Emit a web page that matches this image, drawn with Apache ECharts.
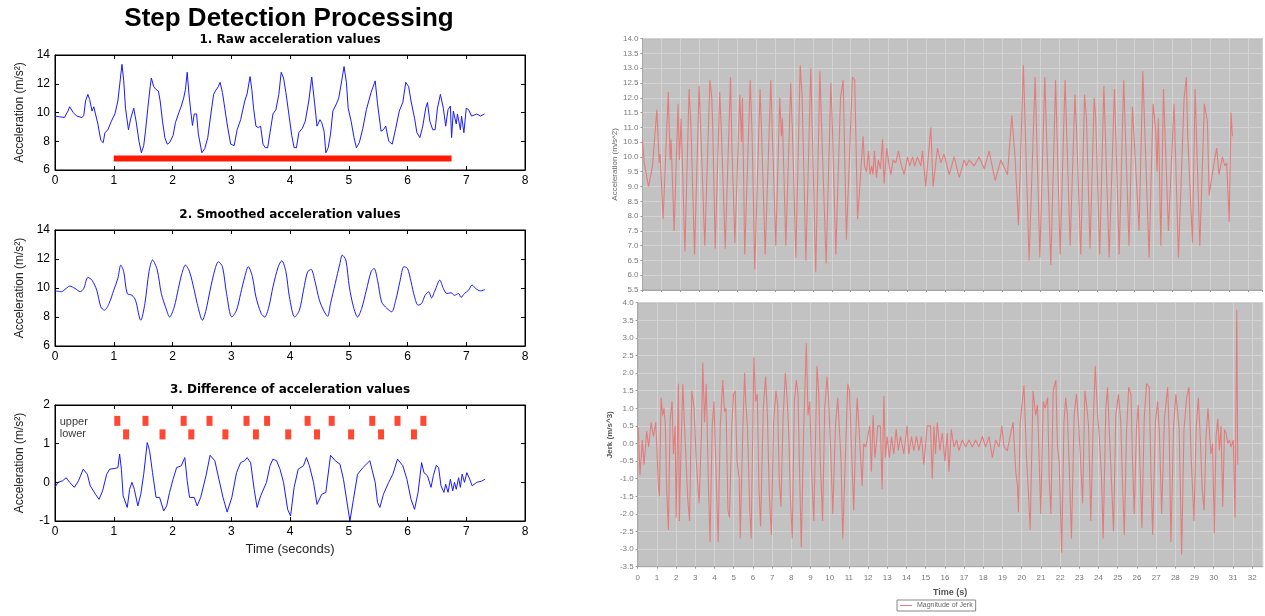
<!DOCTYPE html>
<html>
<head>
<meta charset="utf-8" />
<title>Step Detection Processing</title>
<script src="https://cdn.jsdelivr.net/npm/echarts@6/dist/echarts.min.js"></script>
<style>
html, body { margin: 0; padding: 0; background: #fff; }
#main { width: 1265px; height: 616px; }
</style>
</head>
<body>
<div id="main"></div>
<script>
// ---- left: matlab style panels (time in s, value) ----
var rawAccel = [[0,9.75],[0.08,9.7],[0.16,9.65],[0.22,10.1],[0.25,10.4],[0.31,10.0],[0.37,9.75],[0.46,9.65],[0.49,9.8],[0.52,10.8],[0.56,11.26],[0.59,10.9],[0.63,10.1],[0.66,10.4],[0.69,10.3],[0.73,9.2],[0.78,8.06],[0.82,7.9],[0.85,8.6],[0.90,8.8],[0.96,9.4],[1.02,9.9],[1.07,10.8],[1.10,10.9],[1.14,13.35],[1.17,12.2],[1.20,10.3],[1.25,8.8],[1.29,9.6],[1.34,10.3],[1.38,9.4],[1.43,8.0],[1.47,7.2],[1.51,7.7],[1.54,8.7],[1.58,10.3],[1.62,11.8],[1.64,12.4],[1.68,11.8],[1.72,11.6],[1.76,11.5],[1.79,10.8],[1.83,9.4],[1.87,8.25],[1.91,7.8],[1.95,7.9],[2.01,8.4],[2.05,9.3],[2.10,9.9],[2.15,10.45],[2.19,11.0],[2.22,11.6],[2.25,12.8],[2.28,11.3],[2.31,10.1],[2.34,9.1],[2.37,9.9],[2.41,9.9],[2.44,8.5],[2.50,7.2],[2.55,7.5],[2.60,8.25],[2.66,10.1],[2.70,11.26],[2.73,11.5],[2.78,11.8],[2.81,12.1],[2.85,11.4],[2.89,10.3],[2.93,9.2],[2.99,7.8],[3.05,7.7],[3.10,8.8],[3.16,9.5],[3.23,10.8],[3.27,11.3],[3.32,12.5],[3.35,11.6],[3.38,10.3],[3.42,9.05],[3.46,8.95],[3.50,9.05],[3.54,7.8],[3.58,7.55],[3.62,7.55],[3.66,8.6],[3.71,9.9],[3.76,10.2],[3.81,11.26],[3.85,12.8],[3.89,12.4],[3.93,11.4],[3.98,9.9],[4.03,8.4],[4.07,7.55],[4.11,7.55],[4.15,8.6],[4.21,8.9],[4.26,9.4],[4.32,10.8],[4.37,12.47],[4.42,10.6],[4.46,9.05],[4.51,9.5],[4.54,9.3],[4.58,8.7],[4.61,7.2],[4.65,7.55],[4.69,8.5],[4.73,10.1],[4.79,10.6],[4.83,11.0],[4.88,12.2],[4.92,13.2],[4.96,12.1],[4.99,10.3],[5.04,9.4],[5.09,8.25],[5.13,7.55],[5.18,7.9],[5.24,8.9],[5.30,10.2],[5.38,11.4],[5.45,12.2],[5.49,10.6],[5.55,8.7],[5.59,8.8],[5.63,9.05],[5.68,8.0],[5.74,7.8],[5.80,8.9],[5.86,10.1],[5.92,10.7],[5.97,12.1],[6.02,11.8],[6.06,10.8],[6.12,9.6],[6.16,8.6],[6.21,8.25],[6.26,9.05],[6.31,10.3],[6.34,10.7],[6.38,9.4],[6.43,8.8],[6.47,8.8],[6.51,10.3],[6.56,11.26],[6.61,10.3],[6.65,9.05],[6.69,10.2],[6.73,10.45],[6.75,8.25],[6.78,10.1],[6.83,9.2],[6.85,9.9],[6.90,8.8],[6.92,9.75],[6.96,8.6],[7.00,10.3],[7.04,10.2],[7.09,9.75],[7.18,9.9],[7.24,9.75],[7.31,9.9]];
var smoothAccel = [[0,9.8],[0.11,9.75],[0.19,9.97],[0.25,10.13],[0.34,9.97],[0.43,9.75],[0.49,9.97],[0.56,10.73],[0.63,10.54],[0.71,9.85],[0.78,8.7],[0.84,8.47],[0.92,8.93],[1.00,9.85],[1.07,10.66],[1.12,11.58],[1.17,11.12],[1.23,9.62],[1.31,9.5],[1.37,9.16],[1.46,7.78],[1.53,8.93],[1.60,11.12],[1.66,11.93],[1.74,11.24],[1.81,9.62],[1.90,8.47],[1.95,8.0],[2.03,8.7],[2.10,9.97],[2.16,11.0],[2.22,11.58],[2.29,11.12],[2.37,9.85],[2.42,8.93],[2.51,7.78],[2.57,8.47],[2.64,9.85],[2.72,11.24],[2.78,11.81],[2.85,11.47],[2.92,9.62],[3.01,8.0],[3.09,8.47],[3.16,9.62],[3.23,10.77],[3.29,11.47],[3.36,10.77],[3.42,9.39],[3.51,8.24],[3.57,8.0],[3.64,8.7],[3.71,10.08],[3.80,11.47],[3.86,11.88],[3.93,11.12],[3.99,9.39],[4.08,8.0],[4.16,8.47],[4.23,9.85],[4.30,11.12],[4.36,11.28],[4.42,10.54],[4.50,9.16],[4.57,8.47],[4.64,8.05],[4.69,8.93],[4.77,10.31],[4.85,11.7],[4.89,12.27],[4.95,11.93],[5.01,10.08],[5.08,8.7],[5.15,8.0],[5.22,8.59],[5.30,9.85],[5.38,11.12],[5.43,11.35],[5.49,10.54],[5.56,9.04],[5.65,8.59],[5.73,8.36],[5.80,9.16],[5.87,10.43],[5.94,11.47],[6.00,11.35],[6.06,10.43],[6.12,9.39],[6.18,8.82],[6.24,8.93],[6.30,9.5],[6.36,9.74],[6.41,9.32],[6.47,9.85],[6.55,10.54],[6.61,9.97],[6.67,9.62],[6.74,9.67],[6.80,9.5],[6.87,9.62],[6.91,9.35],[6.97,9.62],[7.04,9.85],[7.10,10.2],[7.16,9.97],[7.24,9.8],[7.32,9.9]];
var diffAccel = [[0,-0.13],[0.05,0.0],[0.13,0.04],[0.19,0.12],[0.25,0.0],[0.33,-0.13],[0.40,0.04],[0.48,0.34],[0.55,0.21],[0.60,-0.09],[0.69,-0.31],[0.75,-0.44],[0.81,-0.22],[0.88,0.21],[0.93,0.34],[1.02,0.36],[1.07,0.38],[1.10,0.73],[1.13,0.34],[1.16,-0.35],[1.23,-0.65],[1.27,-0.18],[1.31,0.0],[1.35,-0.18],[1.41,-0.61],[1.46,-0.31],[1.51,0.21],[1.57,1.03],[1.61,0.82],[1.66,0.25],[1.72,-0.39],[1.78,-0.39],[1.85,-0.74],[1.90,-0.61],[1.95,-0.26],[2.01,0.08],[2.07,0.38],[2.15,0.43],[2.21,0.64],[2.25,0.04],[2.29,-0.39],[2.37,-0.39],[2.42,-0.61],[2.48,-0.39],[2.57,0.17],[2.64,0.7],[2.72,0.56],[2.79,0.08],[2.86,-0.39],[2.93,-0.77],[3.01,-0.39],[3.09,0.25],[3.16,0.51],[3.23,0.56],[3.27,0.64],[3.33,0.51],[3.39,-0.18],[3.44,-0.65],[3.50,-0.35],[3.60,0.0],[3.66,0.43],[3.71,0.6],[3.77,0.56],[3.83,0.34],[3.89,0.0],[3.96,-0.7],[4.01,-0.87],[4.07,-0.13],[4.14,0.34],[4.23,0.43],[4.28,0.64],[4.33,0.43],[4.40,0.0],[4.46,-0.57],[4.54,-0.31],[4.61,-0.26],[4.69,0.7],[4.77,0.56],[4.85,0.47],[4.91,0.08],[4.98,-0.61],[5.02,-1.0],[5.08,-0.44],[5.15,0.21],[5.24,0.38],[5.36,0.56],[5.40,0.3],[5.45,0.0],[5.49,-0.52],[5.53,-0.65],[5.59,-0.31],[5.68,0.0],[5.75,0.21],[5.83,0.6],[5.92,0.43],[5.99,0.08],[6.06,-0.44],[6.12,-0.7],[6.18,-0.26],[6.24,0.51],[6.28,0.25],[6.34,0.17],[6.40,-0.13],[6.44,0.17],[6.49,0.44],[6.53,0.38],[6.57,-0.09],[6.62,-0.26],[6.65,-0.05],[6.69,-0.26],[6.73,0.08],[6.77,-0.22],[6.80,0.0],[6.83,-0.18],[6.87,0.12],[6.90,-0.13],[6.93,0.21],[6.97,0.0],[7.01,0.25],[7.06,0.08],[7.10,-0.09],[7.18,0.0],[7.26,0.03],[7.32,0.08]];
var stepSpan = [[1.0,6.8],[6.75,6.8]];
var upperSteps = [1.06,1.54,2.19,2.63,3.26,3.61,4.30,4.71,5.40,5.83,6.27];
var lowerSteps = [1.21,1.83,2.32,2.90,3.42,3.97,4.46,5.04,5.55,6.11];
var upperLevel = 1.59;
var lowerLevel = 1.24;

// ---- right: acceleration and jerk traces (time in s, value) ----
var accelTrace = [[0,10.6],[0.09,9.8],[0.32,9.0],[0.53,9.7],[0.76,11.6],[0.88,9.8],[0.93,10.1],[1.09,7.9],[1.36,12.2],[1.46,9.9],[1.51,10.6],[1.67,7.5],[1.88,11.8],[1.95,9.9],[2.04,11.3],[2.24,6.8],[2.46,12.3],[2.55,11.2],[2.75,6.7],[2.99,12.4],[3.10,10.5],[3.29,7.0],[3.56,12.6],[3.66,12.0],[3.71,11.0],[3.84,6.9],[4.08,12.2],[4.17,10.8],[4.37,6.9],[4.65,12.7],[4.72,10.4],[4.88,7.1],[5.14,12.1],[5.23,10.5],[5.28,12.0],[5.40,6.7],[5.69,12.6],[5.79,10.7],[5.93,6.2],[6.21,12.3],[6.29,10.8],[6.48,6.7],[6.78,12.6],[6.85,11.0],[7.04,7.0],[7.25,12.0],[7.34,10.7],[7.39,11.3],[7.57,7.0],[7.83,12.5],[7.92,10.8],[8.10,6.6],[8.33,13.1],[8.43,12.1],[8.49,10.4],[8.63,6.5],[8.89,13.0],[9.15,6.1],[9.37,12.9],[9.45,11.2],[9.70,6.4],[9.95,12.5],[10.04,10.8],[10.21,6.7],[10.46,12.0],[10.60,12.6],[10.77,7.2],[11.09,12.7],[11.21,12.6],[11.36,7.9],[11.48,9.0],[11.53,9.5],[11.65,10.7],[11.73,9.7],[11.83,9.5],[11.94,10.2],[12.02,9.4],[12.11,9.7],[12.18,9.4],[12.25,10.2],[12.36,9.3],[12.46,9.9],[12.57,9.6],[12.68,10.6],[12.76,9.1],[12.90,10.3],[13.03,9.7],[13.12,9.4],[13.24,9.9],[13.38,9.8],[13.52,10.2],[13.64,9.8],[13.82,9.4],[14.0,10.0],[14.12,9.7],[14.26,10.0],[14.38,9.7],[14.52,10.0],[14.70,9.7],[14.79,10.2],[14.96,9.0],[15.23,11.0],[15.35,9.0],[15.58,10.3],[15.76,9.8],[15.93,10.1],[16.2,9.4],[16.46,10.0],[16.73,9.3],[16.99,9.9],[17.11,9.7],[17.25,9.9],[17.52,9.7],[17.78,10.0],[18.05,9.6],[18.31,10.2],[18.63,9.2],[18.93,9.9],[19.28,9.4],[19.51,11.4],[19.68,10.0],[19.86,7.7],[20.12,13.1],[20.42,6.5],[20.74,12.7],[20.99,6.6],[21.25,12.7],[21.34,10.8],[21.57,6.35],[21.82,12.6],[22.06,6.7],[22.32,12.6],[22.59,7.0],[22.84,12.1],[22.92,11.0],[23.15,6.7],[23.35,12.1],[23.45,11.3],[23.64,6.9],[23.86,12.0],[23.94,11.3],[24.15,6.7],[24.37,12.4],[24.65,6.6],[24.93,12.3],[25.18,6.7],[25.42,12.6],[25.70,7.0],[25.88,11.7],[26.23,7.5],[26.43,12.9],[26.58,10.0],[26.76,6.6],[26.97,11.8],[27.11,10.9],[27.18,9.5],[27.25,11.3],[27.38,7.0],[27.52,12.3],[27.78,7.5],[28.08,11.8],[28.31,6.6],[28.61,12.0],[28.73,12.7],[28.80,10.7],[29.05,7.1],[29.19,12.3],[29.28,10.3],[29.44,7.0],[29.68,11.8],[29.84,11.2],[29.93,8.7],[30.07,9.3],[30.19,9.8],[30.33,10.3],[30.45,9.4],[30.63,10.0],[30.76,9.7],[30.86,9.8],[30.99,7.8],[31.09,11.5],[31.16,10.7]];
var jerkTrace = [[0.03,0.45],[0.12,-0.9],[0.24,0.1],[0.33,-0.6],[0.47,0.35],[0.57,-0.1],[0.70,0.6],[0.82,0.2],[0.94,0.6],[1.08,-1.2],[1.13,-1.5],[1.22,1.3],[1.30,0.8],[1.37,1.0],[1.44,0.5],[1.51,-1.3],[1.60,-2.45],[1.69,0.7],[1.79,1.2],[1.86,-0.3],[1.95,0.5],[2.0,-2.1],[2.12,1.7],[2.17,-2.2],[2.24,-0.5],[2.35,1.7],[2.43,0.6],[2.52,0.6],[2.61,-1.6],[2.70,-2.2],[2.82,1.5],[2.94,1.0],[3.04,-0.4],[3.11,-1.0],[3.2,-1.7],[3.32,0.3],[3.39,2.3],[3.48,0.6],[3.57,1.7],[3.69,-1.3],[3.77,-2.8],[3.88,0.5],[3.97,1.2],[4.07,1.2],[4.19,-2.8],[4.30,0.5],[4.43,1.8],[4.52,0.9],[4.6,1.0],[4.70,-1.9],[4.78,-2.1],[4.9,0.5],[4.99,1.4],[5.08,1.5],[5.17,-0.5],[5.29,-1.0],[5.34,-2.7],[5.48,0.5],[5.57,2.0],[5.63,1.2],[5.72,0.4],[5.83,-1.8],[5.91,-2.7],[6.05,2.45],[6.14,1.2],[6.23,1.4],[6.31,-1.2],[6.40,-2.35],[6.54,1.0],[6.66,1.9],[6.75,0.9],[6.85,-1.4],[6.96,-2.6],[7.08,0.6],[7.2,1.5],[7.29,1.1],[7.37,-1.0],[7.46,-1.8],[7.57,0.7],[7.69,2.0],[7.77,1.4],[7.86,0.4],[7.95,-1.5],[8.05,-2.7],[8.16,1.2],[8.26,1.8],[8.35,1.4],[8.43,-0.8],[8.52,-2.95],[8.64,0.3],[8.78,2.85],[8.87,0.8],[8.96,1.2],[9.06,-0.8],[9.17,-2.2],[9.29,0.9],[9.34,2.2],[9.43,1.4],[9.51,-0.5],[9.63,-2.2],[9.74,1.0],[9.86,1.9],[9.95,1.2],[10.07,-0.5],[10.16,-2.0],[10.30,0.5],[10.42,1.3],[10.5,1.3],[10.59,-0.5],[10.68,-2.7],[10.82,-0.3],[10.94,1.7],[11.03,1.5],[11.11,0.2],[11.25,-1.9],[11.34,0.0],[11.43,1.3],[11.51,0.6],[11.6,-0.3],[11.69,-1.2],[11.77,0.0],[11.88,-0.1],[11.98,0.2],[12.09,0.5],[12.17,-0.8],[12.26,0.8],[12.35,-0.4],[12.43,0.0],[12.5,0.5],[12.64,0.5],[12.73,-1.3],[12.82,1.35],[12.9,-0.4],[12.99,0.2],[13.11,-0.4],[13.22,0.2],[13.34,-0.3],[13.46,0.4],[13.57,-0.2],[13.69,0.2],[13.86,-0.3],[14.03,0.5],[14.12,-0.3],[14.26,0.2],[14.38,-0.2],[14.52,0.2],[14.64,-0.2],[14.78,0.2],[14.9,-0.6],[15.08,0.5],[15.25,0.5],[15.34,-1.0],[15.43,0.5],[15.51,-0.3],[15.6,0.6],[15.74,-0.2],[15.86,0.3],[16.0,-0.5],[16.12,0.3],[16.21,-0.8],[16.33,0.4],[16.47,-0.1],[16.61,0.1],[16.73,-0.2],[16.9,0.1],[17.08,-0.1],[17.25,0.1],[17.43,-0.1],[17.6,0.1],[17.77,-0.1],[17.95,0.2],[18.12,-0.1],[18.3,0.2],[18.47,-0.4],[18.64,0.1],[18.82,-0.1],[18.96,0.5],[19.08,-0.1],[19.25,-0.2],[19.43,0.3],[19.55,0.6],[19.69,-0.8],[19.78,-1.2],[19.83,-1.95],[19.92,0.6],[20.12,1.65],[20.24,-0.3],[20.35,-1.4],[20.44,-2.45],[20.59,1.5],[20.73,0.8],[20.82,1.1],[20.91,-0.5],[20.99,-2.0],[21.12,1.2],[21.22,1.0],[21.35,1.3],[21.43,-1.0],[21.52,-2.0],[21.64,1.5],[21.78,1.8],[21.86,-0.1],[21.95,-0.5],[22.08,-3.1],[22.2,0.6],[22.29,1.3],[22.38,0.8],[22.47,-0.6],[22.59,-2.7],[22.73,0.8],[22.85,1.4],[22.96,0.6],[23.05,-0.3],[23.17,-1.7],[23.29,1.5],[23.4,1.0],[23.48,0.5],[23.6,-2.2],[23.72,0.5],[23.83,2.2],[23.95,0.8],[24.03,0.3],[24.16,-1.0],[24.24,-2.7],[24.38,1.0],[24.47,1.6],[24.55,0.5],[24.67,-1.0],[24.78,-2.5],[24.9,0.8],[25.04,1.4],[25.16,0.6],[25.25,-1.1],[25.34,-2.6],[25.46,0.3],[25.57,1.6],[25.69,1.4],[25.77,-0.5],[25.86,-2.0],[25.98,0.5],[26.07,1.1],[26.17,-0.8],[26.26,-2.4],[26.38,0.7],[26.5,1.7],[26.64,1.6],[26.73,-0.8],[26.82,-2.6],[26.96,0.6],[27.08,1.2],[27.17,0.3],[27.29,-2.0],[27.43,0.7],[27.6,1.6],[27.68,0.3],[27.77,-2.8],[27.91,0.5],[28.03,1.4],[28.12,0.9],[28.2,0.4],[28.33,-3.15],[28.45,0.4],[28.59,1.3],[28.71,1.6],[28.83,-0.5],[28.97,-2.2],[29.09,0.5],[29.2,1.3],[29.28,0.4],[29.4,-1.3],[29.5,-1.9],[29.6,0.2],[29.7,1.0],[29.85,-0.3],[29.94,0.0],[30.03,-2.55],[30.12,0.2],[30.21,0.7],[30.29,-0.2],[30.38,0.5],[30.47,-1.8],[30.56,0.4],[30.64,0.3],[30.73,0.0],[30.82,0.1],[30.9,-0.1],[31.02,0.1],[31.11,-2.1],[31.2,3.8],[31.25,-0.6]];

var FONT = '"Liberation Sans", Arial, sans-serif';
var BLUE = '#1a1aff';
var RED = '#ff1a00';
var PINK = '#e37d7d';

// matlab style axes: three stacked panels, ticks on all four sides
var leftGrids = [
  {left: 55, top: 55, width: 470, height: 115},
  {left: 55, top: 230, width: 470, height: 116},
  {left: 55, top: 405, width: 470, height: 116}
];
var leftY = [[6, 14, 2], [6, 14, 2], [-1, 2, 1]];

var grids = [];
var xAxes = [];
var yAxes = [];
leftGrids.forEach(function (g, i) {
  grids.push({left: g.left, top: g.top, width: g.width, height: g.height,
    show: true, backgroundColor: '#fff', borderColor: '#000', borderWidth: 1});
  xAxes.push({type: 'value', gridIndex: i, min: 0, max: 8, interval: 1,
    axisLine: {onZero: false, lineStyle: {color: '#000'}},
    axisTick: {inside: true, length: 4, lineStyle: {color: '#000'}},
    axisLabel: {color: '#000', fontSize: 12, fontFamily: FONT, margin: 5},
    splitLine: {show: false},
    name: i === 2 ? 'Time (seconds)' : '', nameLocation: 'middle', nameGap: 22,
    nameTextStyle: {color: '#222', fontSize: 13, fontFamily: FONT}});
  xAxes.push({type: 'value', gridIndex: i, position: 'top', min: 0, max: 8, interval: 1,
    axisLine: {onZero: false, lineStyle: {color: '#000'}},
    axisTick: {inside: true, length: 4, lineStyle: {color: '#000'}},
    axisLabel: {show: false}, splitLine: {show: false}});
  yAxes.push({type: 'value', gridIndex: i, min: leftY[i][0], max: leftY[i][1], interval: leftY[i][2],
    axisLine: {onZero: false, lineStyle: {color: '#000'}},
    axisTick: {inside: true, length: 4, lineStyle: {color: '#000'}},
    axisLabel: {color: '#000', fontSize: 12, fontFamily: FONT, margin: 5},
    splitLine: {show: false},
    name: 'Acceleration (m/s\u00b2)', nameLocation: 'middle', nameGap: 29,
    nameTextStyle: {color: '#222', fontSize: 12, fontFamily: FONT}});
  yAxes.push({type: 'value', gridIndex: i, position: 'right', min: leftY[i][0], max: leftY[i][1], interval: leftY[i][2],
    axisLine: {onZero: false, lineStyle: {color: '#000'}},
    axisTick: {inside: true, length: 4, lineStyle: {color: '#000'}},
    axisLabel: {show: false}, splitLine: {show: false}});
});

// right side: two jfreechart style panels
var greyGrid = {show: true, backgroundColor: '#c2c2c2', borderColor: '#a8a8a8', borderWidth: 1};
grids.push(Object.assign({left: 642.5, top: 38.7, width: 620, height: 251.3}, greyGrid));
grids.push(Object.assign({left: 637.7, top: 302.7, width: 625, height: 264}, greyGrid));
var rSplit = {show: true, lineStyle: {color: '#d3d3d3', width: 1}};
var rLabel = {color: '#7a7a7a', fontSize: 8, fontFamily: FONT};
xAxes.push({type: 'value', gridIndex: 3, min: 0, max: 32.75, interval: 1,
  axisLine: {onZero: false, lineStyle: {color: '#a8a8a8'}}, axisTick: {length: 2, lineStyle: {color: '#999'}},
  axisLabel: {show: false}, splitLine: rSplit});
yAxes.push({type: 'value', gridIndex: 3, min: 5.5, max: 14, interval: 0.5,
  axisLine: {show: true, onZero: false, lineStyle: {color: '#a8a8a8'}}, axisTick: {show: true, length: 2, lineStyle: {color: '#999'}},
  axisLabel: Object.assign({margin: 4, formatter: function (v) { return v.toFixed(1); }}, rLabel),
  splitLine: rSplit,
  name: 'Acceleration (m/s^2)', nameLocation: 'middle', nameGap: 24,
  nameTextStyle: {color: '#666', fontSize: 8, fontFamily: FONT}});
xAxes.push({type: 'value', gridIndex: 4, min: 0, max: 32.55, interval: 1,
  axisLine: {onZero: false, lineStyle: {color: '#a8a8a8'}}, axisTick: {length: 2, lineStyle: {color: '#999'}},
  axisLabel: Object.assign({margin: 7, showMaxLabel: false}, rLabel), splitLine: rSplit,
  name: 'Time (s)', nameLocation: 'middle', nameGap: 21,
  nameTextStyle: {color: '#555', fontSize: 9, fontWeight: 'bold', fontFamily: FONT}});
yAxes.push({type: 'value', gridIndex: 4, min: -3.5, max: 4, interval: 0.5,
  axisLine: {show: true, onZero: false, lineStyle: {color: '#a8a8a8'}}, axisTick: {show: true, length: 2, lineStyle: {color: '#999'}},
  axisLabel: Object.assign({margin: 4, formatter: function (v) { return v.toFixed(1); }}, rLabel),
  splitLine: rSplit,
  name: 'Jerk (m/s^3)', nameLocation: 'middle', nameGap: 24,
  nameTextStyle: {color: '#555', fontSize: 8, fontWeight: 'bold', fontFamily: FONT}});

// x axis index of each panel's bottom axis / y axis index of left axis
function bx(i) { return i < 3 ? i * 2 : 6 + (i - 3); }
function ly(i) { return i < 3 ? i * 2 : 6 + (i - 3); }

function line(name, data, i, color, width, smooth) {
  return {name: name, type: 'line', data: data, xAxisIndex: bx(i), yAxisIndex: ly(i),
    showSymbol: false, smooth: smooth || false, animation: false,
    lineStyle: {color: color, width: width}, itemStyle: {color: color}};
}

var series = [
  line('raw', rawAccel, 0, BLUE, 1),
  line('steps', stepSpan, 0, RED, 6),
  line('smoothed', smoothAccel, 1, BLUE, 1, 0.3),
  line('difference', diffAccel, 2, BLUE, 1),
  {type: 'scatter', xAxisIndex: 4, yAxisIndex: 4, symbol: 'rect', symbolSize: [6, 10], animation: false,
    itemStyle: {color: RED}, data: upperSteps.map(function (t) { return [t, upperLevel]; })},
  {type: 'scatter', xAxisIndex: 4, yAxisIndex: 4, symbol: 'rect', symbolSize: [6, 10], animation: false,
    itemStyle: {color: RED}, data: lowerSteps.map(function (t) { return [t, lowerLevel]; })},
  {type: 'scatter', xAxisIndex: 4, yAxisIndex: 4, symbolSize: 0, animation: false,
    label: {show: true, position: 'right', distance: 0, formatter: '{b}', color: '#000', fontSize: 11, fontFamily: FONT},
    data: [{name: 'upper', value: [0.08, 1.55]}, {name: 'lower', value: [0.08, 1.25]}]},
  line('acceleration', accelTrace, 3, PINK, 1.1),
  line('Magnitude of Jerk', jerkTrace, 4, PINK, 1.1)
];

var chart = echarts.init(document.getElementById('main'), null, {renderer: 'canvas'});
chart.setOption({
  animation: false,
  backgroundColor: '#fff',
  grid: grids,
  xAxis: xAxes,
  yAxis: yAxes,
  legend: {data: ['Magnitude of Jerk'], left: 897, top: 600, icon: 'rect', itemWidth: 12, itemHeight: 1,
    itemGap: 2, padding: [2, 3], borderColor: '#888', borderWidth: 1,
    textStyle: {color: '#666', fontSize: 7, fontFamily: FONT}},
  graphic: [
    {type: 'text', x: 289, y: 19, style: {text: 'Step Detection Processing', align: 'center', verticalAlign: 'middle',
      font: 'bold 26px ' + FONT, fill: '#000'}},
    {type: 'text', x: 290, y: 40, style: {text: '1. Raw acceleration values', align: 'center', verticalAlign: 'middle',
      font: 'bold 12px "DejaVu Sans", sans-serif', fill: '#000'}},
    {type: 'text', x: 290, y: 215, style: {text: '2. Smoothed acceleration values', align: 'center', verticalAlign: 'middle',
      font: 'bold 12px "DejaVu Sans", sans-serif', fill: '#000'}},
    {type: 'text', x: 290, y: 390, style: {text: '3. Difference of acceleration values', align: 'center', verticalAlign: 'middle',
      font: 'bold 12px "DejaVu Sans", sans-serif', fill: '#000'}}
  ],
  series: series
});
</script>
</body>
</html>
